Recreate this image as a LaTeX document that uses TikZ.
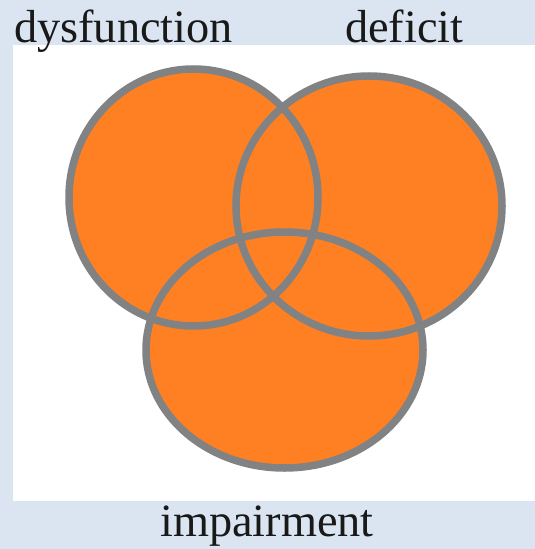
\documentclass[tikz,border=0pt]{standalone}
\usepackage{fontspec}
\setmainfont{Liberation Serif}
\definecolor{bgblue}{RGB}{219,229,241}
\definecolor{vorange}{RGB}{255,128,34}
\definecolor{vgray}{RGB}{128,130,132}
\definecolor{lbl}{RGB}{25,25,25}
\tikzset{
  blob/.style={fill=vorange},
  rim/.style={draw=vgray,line width=7.5bp},
  lab/.style={inner sep=0pt,anchor=base,text=lbl,font=\rmfamily\fontsize{46.5}{46.5}\selectfont}
}
\begin{document}
\begin{tikzpicture}[x=1bp,y=-1bp]
\fill[bgblue] (0,0) rectangle (535,549);
\useasboundingbox (0,0) rectangle (535,549);
\fill[white] (13,45) rectangle (535,501);
% fills
\fill[blob] (193.5,197.5) ellipse [x radius=124.5, y radius=128.5];
\fill[blob] (369,206) ellipse [x radius=133, y radius=130];
\fill[blob] (284.5,350) ellipse [x radius=138.5, y radius=118];
% outlines
\draw[rim] (193.5,197.5) ellipse [x radius=124.5, y radius=128.5];
\draw[rim] (369,206) ellipse [x radius=133, y radius=130];
\draw[rim] (284.5,350) ellipse [x radius=138.5, y radius=118];
% labels
\node[lab,anchor=base west] (dys) at (14,43) {dysfunction};
\node[lab,anchor=base west] (def) at (345,43) {deficit};
\node[lab] (imp) at (267,536) {impairment};
\end{tikzpicture}
\end{document}
